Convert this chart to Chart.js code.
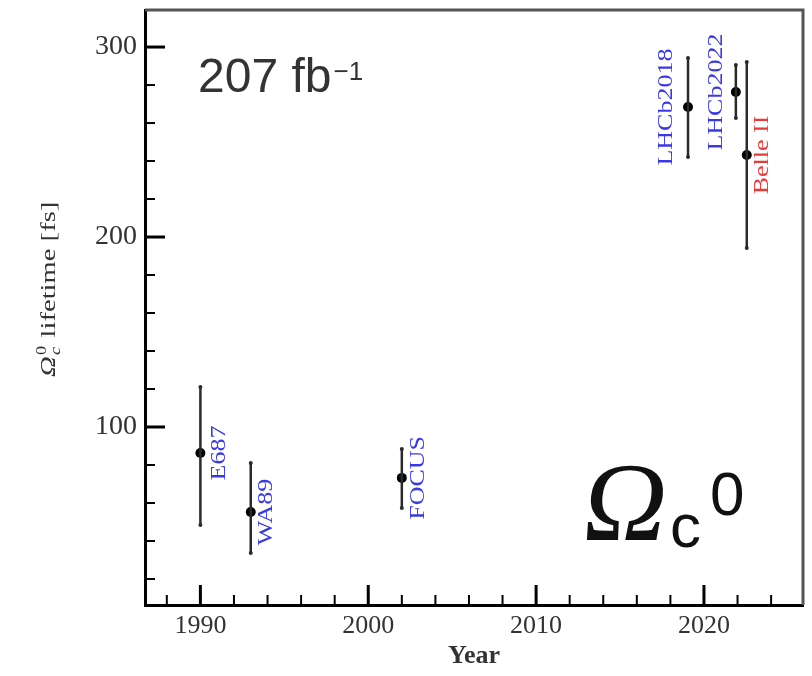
<!DOCTYPE html>
<html>
<head>
<meta charset="utf-8">
<script src="https://cdn.jsdelivr.net/npm/chart.js@4.4.1/dist/chart.umd.min.js"></script>
<style>
    html, body { margin: 0; padding: 0; background: #fff; }
    canvas { display: block; }
</style>
</head>
<body>
<canvas id="lifetimeChart" width="812" height="676"></canvas>
<script>
// Omega_c^0 lifetime measurements vs year
const experiments = ['E687', 'WA89', 'FOCUS', 'LHCb2018', 'LHCb2022', 'Belle II'];
const years = [1990, 1993, 2002, 2019.05, 2021.9, 2022.55];
const lifetimes = [86.3, 55.3, 73.2, 268.4, 276.3, 243.2];
const errUp = [34.7, 25.7, 15.2, 25.8, 14.2, 48.9];
const errDown = [37.9, 21.6, 15.8, 26.3, 13.7, 49.0];

const xTicks = [1990, 2000, 2010, 2020];
const yTicks = [100, 200, 300];
const xMinorTicks = [1988, 1990, 1992, 1994, 1996, 1998, 2000, 2002, 2004, 2006, 2008, 2010, 2012, 2014, 2016, 2018, 2020, 2022, 2024];
const yMinorTicks = [20, 40, 60, 80, 100, 120, 140, 160, 180, 200, 220, 240, 260, 280, 300];

// label placement (px offset from the point, + = right of the bar)
const labelOffsets = [19, 16, 17, -21, -19, 16];
const labelColors = ['#3a3ae4', '#3a3ae4', '#3a3ae4', '#3a3ae4', '#3a3ae4', '#e53b3b'];

const serif = '"Liberation Serif", "Times New Roman", serif';
const sans = '"Liberation Sans", Arial, sans-serif';

// one line dataset per error bar
const errorBarSets = years.map((yr, i) => ({
    type: 'line',
    data: [{ x: yr, y: lifetimes[i] - errDown[i] }, { x: yr, y: lifetimes[i] + errUp[i] }],
    borderColor: '#2a2a2a',
    borderWidth: 2.5,
    pointRadius: 2,
    pointBackgroundColor: '#2a2a2a',
    pointBorderWidth: 0,
    showLine: true,
    fill: false
}));

const framePlugin = {
    id: 'frame',
    afterDatasetsDraw(chart) {
        const { ctx, chartArea: a, scales } = chart;
        ctx.save();
        // top and right frame
        ctx.strokeStyle = '#555';
        ctx.lineWidth = 3;
        ctx.beginPath();
        ctx.moveTo(a.left, a.top);
        ctx.lineTo(a.right, a.top);
        ctx.lineTo(a.right, a.bottom);
        ctx.stroke();

        // inward ticks
        ctx.strokeStyle = '#000';
        xMinorTicks.forEach(v => {
            const px = scales.x.getPixelForValue(v);
            const major = xTicks.includes(v);
            ctx.lineWidth = major ? 3 : 2;
            ctx.beginPath();
            ctx.moveTo(px, a.bottom);
            ctx.lineTo(px, a.bottom - (major ? 20 : 10));
            ctx.stroke();
        });
        yMinorTicks.forEach(v => {
            const py = scales.y.getPixelForValue(v);
            const major = yTicks.includes(v);
            ctx.lineWidth = major ? 3 : 2;
            ctx.beginPath();
            ctx.moveTo(a.left, py);
            ctx.lineTo(a.left + (major ? 20 : 10), py);
            ctx.stroke();
        });

        // experiment labels, rotated
        experiments.forEach((name, i) => {
            const px = scales.x.getPixelForValue(years[i]) + labelOffsets[i];
            const py = scales.y.getPixelForValue(lifetimes[i]);
            ctx.save();
            ctx.translate(px, py);
            ctx.rotate(-Math.PI / 2);
            ctx.scale(1.3, 1);
            ctx.fillStyle = labelColors[i];
            ctx.font = '20px ' + serif;
            ctx.textAlign = 'center';
            ctx.textBaseline = 'middle';
            ctx.fillText(name, 0, 0);
            ctx.restore();
        });

        // luminosity text
        ctx.fillStyle = '#333';
        ctx.textAlign = 'left';
        ctx.textBaseline = 'alphabetic';
        ctx.font = '48px ' + sans;
        ctx.fillText('207 fb', 198, 92);
        const w = ctx.measureText('207 fb').width;
        ctx.font = '26px ' + sans;
        ctx.fillText('\u22121', 198 + w + 2, 80);

        // big Omega_c^0 (upright glyph, gently slanted)
        ctx.fillStyle = '#111';
        ctx.save();
        ctx.translate(580, 540);
        ctx.transform(1, 0, -0.12, 1, 0, 0);
        ctx.font = '112px ' + serif;
        ctx.fillText('\u03A9', 0, 0);
        ctx.restore();
        ctx.font = '62px ' + sans;
        ctx.fillText('c', 670, 547);
        ctx.fillText('0', 710, 515);

        // y axis title
        ctx.save();
        ctx.translate(55, 377);
        ctx.rotate(-Math.PI / 2);
        ctx.scale(1.3, 1);
        ctx.fillStyle = '#333';
        ctx.font = 'italic 22px ' + serif;
        ctx.fillText('\u03A9', 0, 0);
        const ow = ctx.measureText('\u03A9').width;
        ctx.font = '14px ' + serif;
        ctx.fillText('0', ow + 1, -9);
        ctx.font = 'italic 14px ' + serif;
        ctx.fillText('c', ow + 1, 5);
        ctx.font = '22px ' + serif;
        ctx.fillText(' lifetime [fs]', ow + 9, 0);
        ctx.restore();

        ctx.restore();
    }
};

const ctx = document.getElementById('lifetimeChart');
new Chart(ctx, {
    type: 'scatter',
    data: {
        datasets: [
            ...errorBarSets,
            {
                type: 'scatter',
                data: years.map((yr, i) => ({ x: yr, y: lifetimes[i] })),
                pointRadius: 5,
                pointBackgroundColor: '#000',
                pointBorderWidth: 0
            }
        ]
    },
    options: {
        responsive: false,
        devicePixelRatio: 1,
        animation: false,
        layout: { padding: { left: 0, top: 10, right: 9, bottom: 0 } },
        plugins: {
            legend: { display: false },
            tooltip: { enabled: false }
        },
        scales: {
            x: {
                type: 'linear',
                min: 1986.7,
                max: 2025.9,
                afterBuildTicks: scale => { scale.ticks = xTicks.map(v => ({ value: v })); },
                afterFit: scale => { scale.height = 71; scale.paddingLeft = 0; scale.paddingRight = 0; },
                grid: { display: false, drawTicks: false },
                border: { display: true, color: '#000', width: 3 },
                ticks: {
                    padding: 6,
                    color: '#333',
                    font: { family: serif, size: 26 },
                    callback: v => String(v)
                },
                title: {
                    display: true,
                    text: 'Year',
                    color: '#333',
                    font: { family: serif, size: 26, weight: 'bold' },
                    padding: { top: 0, bottom: 4 }
                }
            },
            y: {
                type: 'linear',
                min: 6.3,
                max: 319.5,
                afterBuildTicks: scale => { scale.ticks = yTicks.map(v => ({ value: v })); },
                afterFit: scale => { scale.width = 145; scale.paddingTop = 0; scale.paddingBottom = 0; },
                grid: { display: false, drawTicks: false },
                border: { display: true, color: '#000', width: 3 },
                ticks: {
                    padding: 8,
                    color: '#333',
                    font: { family: serif, size: 28 },
                    callback: v => String(v)
                },
                title: { display: false }
            }
        }
    },
    plugins: [framePlugin]
});
</script>
</body>
</html>
